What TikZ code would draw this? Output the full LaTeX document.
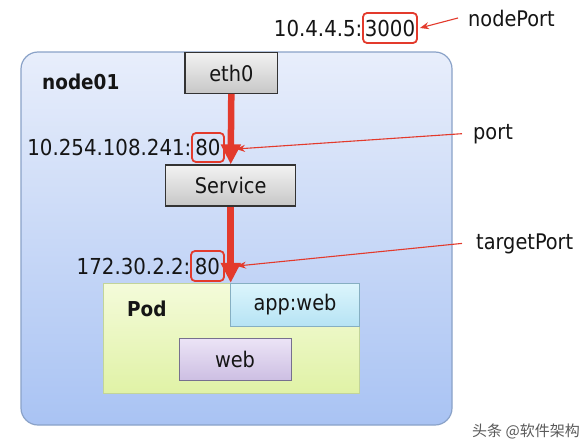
\documentclass[tikz,border=0pt]{standalone}
\usepackage{fontspec}
\setmainfont{DejaVu Sans Condensed}
\newfontfamily\cjkfont{Noto Sans CJK SC}
\usetikzlibrary{arrows.meta}
\definecolor{redc}{HTML}{E33A2C}
\definecolor{txtc}{HTML}{151515}
\definecolor{HostBorder}{HTML}{8AA2C8}
\definecolor{HostTop}{HTML}{E8EEFB}
\definecolor{HostBot}{HTML}{A9C3F3}
\definecolor{PodBorder}{HTML}{C2D49A}
\definecolor{PodTop}{HTML}{F4FBDA}
\definecolor{PodBot}{HTML}{E0F2A6}
\definecolor{AppBorder}{HTML}{86AFC2}
\definecolor{AppTop}{HTML}{DCF5FC}
\definecolor{AppBot}{HTML}{B6E3F4}
\definecolor{WebBorder}{HTML}{77708E}
\definecolor{WebTop}{HTML}{ECE4F6}
\definecolor{WebBot}{HTML}{CDBFE3}
\tikzset{
  wordtxt/.style={inner sep=0pt, text=txtc, font=\fontsize{21.5}{25}\selectfont},
  numtxt/.style={inner sep=0pt, text=txtc, font=\fontsize{22}{26}\selectfont},
  boldtxt/.style={inner sep=0pt, text=txtc, font=\fontsize{20.5}{24}\selectfont\bfseries},
  container/.style={draw=HostBorder, line width=1.2pt, rounded corners=17pt,
    top color=HostTop, bottom color=HostBot, inner sep=0pt},
  graybox/.style={draw=black!80, line width=1.2pt, top color=black!5, bottom color=black!22,
    inner sep=0pt, text=txtc, font=\fontsize{21.5}{25}\selectfont},
  podbox/.style={draw=PodBorder, line width=1pt, top color=PodTop, bottom color=PodBot, inner sep=0pt},
  labelbox/.style={draw=AppBorder, line width=1pt, top color=AppTop, bottom color=AppBot,
    inner sep=0pt, text=txtc, font=\fontsize{21.5}{25}\selectfont},
  webbox/.style={draw=WebBorder, line width=1pt, top color=WebTop, bottom color=WebBot,
    inner sep=0pt, text=txtc, font=\fontsize{21.5}{25}\selectfont},
  portbox/.style={draw=redc, line width=1.8pt, rounded corners=4pt, inner sep=0pt,
    text=txtc, font=\fontsize{22}{26}\selectfont},
  bigarrow/.style={draw=redc, line width=6.5pt, -{Triangle[width=19pt,length=20pt]}},
  thinarrow/.style={draw=redc, line width=1.1pt, -{Stealth[width=7pt,length=9pt]}},
}
\begin{document}
\begin{tikzpicture}[x=1pt,y=-1pt]
\useasboundingbox[fill=white] (0,0) rectangle (588,442);

% host container
\node[container, minimum width=431pt, minimum height=373pt] (host) at (236.5,238.5) {};
\node[boldtxt, anchor=base west] (hostlbl) at (42,89) {node01};

% boxes
\node[graybox, minimum width=92.7pt, minimum height=40.6pt] (eth) at (231.3,73) {eth0};
\node[graybox, minimum width=130pt, minimum height=41pt] (svc) at (230.7,185.5) {Service};
\node[podbox, minimum width=256pt, minimum height=110pt] (pod) at (231.3,338.3) {};
\node[labelbox, minimum width=128.6pt, minimum height=42.7pt] (app) at (295,304.7) {app:web};
\node[webbox, minimum width=112pt, minimum height=42pt] (web) at (235,359) {web};
\node[boldtxt, anchor=base west] (podlbl) at (127,316) {Pod};

% port boxes and addresses
\node[portbox, minimum width=54pt, minimum height=30pt] (b3000) at (390,28) {3000};
\node[numtxt, anchor=base east] (ip1) at ([xshift=0.5pt]b3000.base west) {10.4.4.5:};
\node[portbox, minimum width=32pt, minimum height=29pt] (b80a) at (208,147.5) {80};
\node[numtxt, anchor=base east] (ip2) at ([xshift=0.5pt]b80a.base west) {10.254.108.241:};
\node[portbox, minimum width=33pt, minimum height=30pt] (b80b) at (207.5,266) {80};
\node[numtxt, anchor=base east] (ip3) at ([xshift=0.5pt]b80b.base west) {172.30.2.2:};

% right labels
\node[wordtxt, anchor=base west] (np) at (468,26) {nodePort};
\node[wordtxt, anchor=base west] (pt) at (473,139) {port};
\node[wordtxt, anchor=base west] (tp) at (476,249) {targetPort};
\node[inner sep=0pt, anchor=base west, text=black!65, font=\fontsize{15}{18}\cjkfont] (wm) at (472,436) {头条 @软件架构};

% pointer arrows
\coordinate (porttip) at (236,149);
\coordinate (targettip) at (237,266);
\draw[thinarrow] ([xshift=-10pt]np.west) -- ([xshift=2pt]b3000.east);
\draw[thinarrow] ([xshift=-11pt]pt.west) -- (porttip);
\draw[thinarrow] ([xshift=-14pt]tp.west) -- (targettip);

% traffic arrows
\draw[bigarrow] (eth.south) -- (svc.north);
\draw[bigarrow] (svc.south) -- (svc.south |- pod.north);
\end{tikzpicture}
\end{document}
